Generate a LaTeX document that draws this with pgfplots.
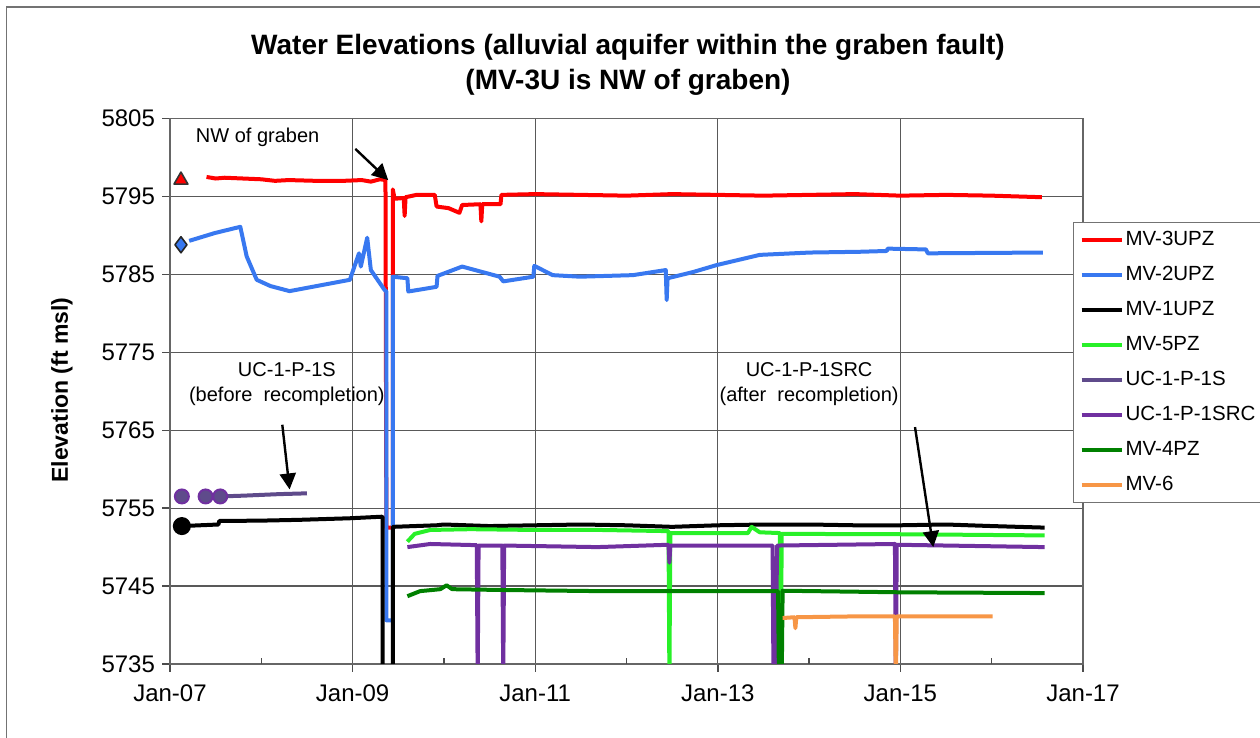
\documentclass[border=0pt]{standalone}
\usepackage{fontspec}
\setmainfont{Liberation Sans}
\usepackage{pgfplots}
\pgfplotsset{compat=1.18}
\usetikzlibrary{arrows.meta}
\definecolor{cRed}{RGB}{255,0,0}
\definecolor{cBlue}{RGB}{56,120,240}
\definecolor{cGreen}{RGB}{40,240,40}
\definecolor{cUCS}{RGB}{95,75,139}
\definecolor{cUCR}{RGB}{112,48,160}
\definecolor{cDGreen}{RGB}{0,128,0}
\definecolor{cOrange}{RGB}{247,150,70}
\begin{document}
\begin{tikzpicture}
\useasboundingbox (0,0) rectangle (630pt,369pt);
\draw[black!55, line width=0.8pt] (3.25pt,-5pt) -- (3.25pt,365.5pt) -- (640pt,365.5pt);
\node[anchor=base, font=\bfseries\fontsize{14}{16}\selectfont] at (314pt,341.5pt) {Water Elevations (alluvial aquifer within the graben fault)};
\node[anchor=base, font=\bfseries\fontsize{14}{16}\selectfont] at (314pt,324pt) {(MV-3U is NW of graben)};
\node[rotate=90, font=\bfseries\fontsize{11.5}{13}\selectfont] at (31pt,174pt) {Elevation (ft msl)};
\begin{axis}[
  at={(85pt,37pt)}, anchor=south west,
  scale only axis, width=456.5pt, height=272.75pt,
  xmin=2007, xmax=2017, ymin=5735, ymax=5805,
  xtick={2007,2009,2011,2013,2015,2017},
  xticklabels={Jan-07,Jan-09,Jan-11,Jan-13,Jan-15,Jan-17},
  ytick={5735,5745,5755,5765,5775,5785,5795,5805},
  yticklabels={5735,5745,5755,5765,5775,5785,5795,5805},
  extra x ticks={2008,2010,2012,2014,2016},
  extra x tick labels={},
  extra x tick style={tick align=inside, major tick length=3pt, grid=none},
  tick align=outside, major tick length=4pt,
  xtick pos=bottom, ytick pos=left,
  xmajorgrids, ymajorgrids,
  grid style={black!65, line width=0.6pt},
  axis line style={black!60, line width=0.8pt},
  tick style={black!70, line width=0.7pt},
  ticklabel style={font=\fontsize{12}{14}\selectfont},
  xticklabel style={yshift=-3pt},
  every axis plot/.append style={line width=2pt, line join=round},
  legend image code/.code={\draw[#1] (0pt,0pt) -- (20pt,0pt);},
  legend cell align=left,
  legend style={at={(0.989,0.810)}, anchor=north west, draw=black!55, line width=0.6pt,
    font=\fontsize{10.25}{12}\selectfont, inner xsep=3pt, inner ysep=3pt,
    row sep=6pt, nodes={inner sep=1pt, text height=7.5pt, text depth=2pt}},
]
% MV-3UPZ
\addplot[cRed] coordinates {(2007.40,5797.5) (2007.5,5797.3) (2007.6,5797.4) (2007.8,5797.3) (2008.0,5797.2) (2008.15,5797.0) (2008.3,5797.1) (2008.6,5797.0) (2008.9,5797.0) (2009.1,5797.1) (2009.2,5796.9) (2009.3,5797.2) (2009.36,5797.1) (2009.37,5752.5) (2009.44,5752.5) (2009.44,5795.9) (2009.46,5794.7) (2009.56,5794.8) (2009.57,5792.5) (2009.58,5794.9) (2009.7,5795.2) (2009.9,5795.2) (2009.92,5793.7) (2010.05,5793.5) (2010.17,5792.9) (2010.20,5793.9) (2010.40,5794.0) (2010.41,5791.8) (2010.42,5794.0) (2010.62,5794.0) (2010.63,5795.2) (2011.0,5795.3) (2011.5,5795.2) (2012,5795.1) (2012.5,5795.3) (2013,5795.2) (2013.5,5795.1) (2014,5795.2) (2014.5,5795.3) (2015,5795.1) (2015.5,5795.2) (2016,5795.1) (2016.55,5794.9)};
\addlegendentry{MV-3UPZ}
% MV-2UPZ
\addplot[cBlue] coordinates {(2007.21,5789.3) (2007.49,5790.3) (2007.77,5791.1) (2007.84,5787.3) (2007.95,5784.3) (2008.1,5783.5) (2008.31,5782.85) (2008.97,5784.3) (2009.07,5787.7) (2009.09,5786.0) (2009.16,5789.7) (2009.20,5785.55) (2009.35,5783.0) (2009.37,5782.8) (2009.37,5740.6) (2009.44,5740.6) (2009.44,5784.7) (2009.60,5784.5) (2009.61,5782.8) (2009.92,5783.4) (2009.93,5784.8) (2010.20,5786.0) (2010.61,5784.7) (2010.65,5784.1) (2010.98,5784.7) (2010.99,5786.1) (2011.19,5784.9) (2011.49,5784.7) (2012.07,5784.9) (2012.43,5785.55) (2012.44,5781.7) (2012.45,5784.5) (2012.73,5785.3) (2012.99,5786.2) (2013.46,5787.5) (2014.01,5787.8) (2014.56,5787.9) (2014.85,5788.0) (2014.86,5788.3) (2015.28,5788.2) (2015.30,5787.7) (2016.56,5787.8)};
\addlegendentry{MV-2UPZ}
% MV-1UPZ
\addplot[black] coordinates {(2007.13,5752.7) (2007.53,5752.9) (2007.54,5753.35) (2008.01,5753.4) (2008.42,5753.5) (2008.97,5753.7) (2009.32,5753.9) (2009.33,5753.8) (2009.33,5733) (2009.44,5733) (2009.44,5752.6) (2009.92,5752.8) (2010.0,5752.9) (2010.5,5752.7) (2011,5752.8) (2011.5,5752.9) (2012,5752.8) (2012.5,5752.6) (2013,5752.8) (2013.5,5752.9) (2014,5752.9) (2014.5,5752.8) (2015,5752.8) (2015.5,5752.9) (2016,5752.7) (2016.58,5752.5)};
\addlegendentry{MV-1UPZ}
% MV-5PZ
\addplot[cGreen] coordinates {(2009.60,5750.7) (2009.68,5751.7) (2009.85,5752.2) (2010.29,5752.3) (2011.0,5752.2) (2011.71,5752.2) (2012.46,5752.05) (2012.47,5733) (2012.48,5751.8) (2013.02,5751.8) (2013.33,5751.8) (2013.37,5752.6) (2013.46,5751.9) (2013.68,5751.8) (2013.69,5733) (2013.70,5751.7) (2015.0,5751.65) (2016.58,5751.5)};
\addlegendentry{MV-5PZ}
% UC-1-P-1S
\addplot[cUCS] coordinates {(2007.55,5756.5) (2007.8,5756.6) (2008.0,5756.7) (2008.2,5756.8) (2008.5,5756.9)};
\addlegendentry{UC-1-P-1S}
% UC-1-P-1SRC
\addplot[cUCR] coordinates {(2009.60,5750.0) (2009.85,5750.4) (2010.36,5750.25) (2010.37,5733) (2010.38,5750.2) (2010.64,5750.2) (2010.65,5733) (2010.66,5750.2) (2011.68,5750.0) (2012.46,5750.3) (2012.47,5748.0) (2012.48,5750.2) (2013.60,5750.2) (2013.61,5733) (2013.63,5733) (2013.65,5750.2) (2014.94,5750.4) (2014.95,5733) (2014.96,5750.3) (2016.58,5750.0)};
\addlegendentry{UC-1-P-1SRC}
% MV-4PZ
\addplot[cDGreen] coordinates {(2009.60,5743.7) (2009.74,5744.35) (2009.96,5744.6) (2010.03,5745.1) (2010.09,5744.6) (2010.61,5744.5) (2011.71,5744.35) (2013.66,5744.35) (2013.67,5733) (2013.70,5733) (2013.71,5744.4) (2015.0,5744.2) (2016.58,5744.1)};
\addlegendentry{MV-4PZ}
% MV-6
\addplot[cOrange] coordinates {(2013.71,5740.9) (2013.84,5741.0) (2013.85,5739.6) (2013.86,5741.0) (2014.45,5741.1) (2014.94,5741.1) (2014.95,5733) (2014.96,5741.1) (2016.01,5741.1)};
\addlegendentry{MV-6}
% markers
\addplot[forget plot, only marks, mark=triangle*, mark size=4pt, mark options={fill=cRed, draw=black!80, line width=0.8pt}] coordinates {(2007.12,5797.1)};
\addplot[forget plot, only marks, mark=diamond*, mark size=4pt, mark options={fill=cBlue, draw=black!85, line width=0.8pt}] coordinates {(2007.12,5788.8)};
\addplot[forget plot, only marks, mark=*, mark size=3.5pt, mark options={fill=black, draw=black}] coordinates {(2007.13,5752.7)};
\addplot[forget plot, only marks, mark=*, mark size=3.5pt, mark options={fill=cUCS, draw=cUCR, line width=1pt}] coordinates {(2007.13,5756.5) (2007.39,5756.5) (2007.55,5756.5)};
% annotations
\node[font=\fontsize{10}{12}\selectfont] at (axis cs:2007.96,5802.6) {NW of graben};
\draw[-{Triangle[length=8pt,width=8pt]}, line width=1.2pt] (axis cs:2009.03,5801.1) -- (axis cs:2009.39,5797.1);
\node[font=\fontsize{10}{12.5}\selectfont, align=center] at (axis cs:2008.28,5770.9) {UC-1-P-1S\\(before\ \ recompletion)};
\draw[-{Triangle[length=8pt,width=8pt]}, line width=1.2pt] (axis cs:2008.23,5765.7) -- (axis cs:2008.31,5757.4);
\node[font=\fontsize{10}{12.5}\selectfont, align=center] at (axis cs:2014.0,5770.9) {UC-1-P-1SRC\\(after\ \ recompletion)};
\draw[-{Triangle[length=8pt,width=8pt]}, line width=1.2pt] (axis cs:2015.16,5765.4) -- (axis cs:2015.36,5750.0);
\end{axis}
\end{tikzpicture}
\end{document}
